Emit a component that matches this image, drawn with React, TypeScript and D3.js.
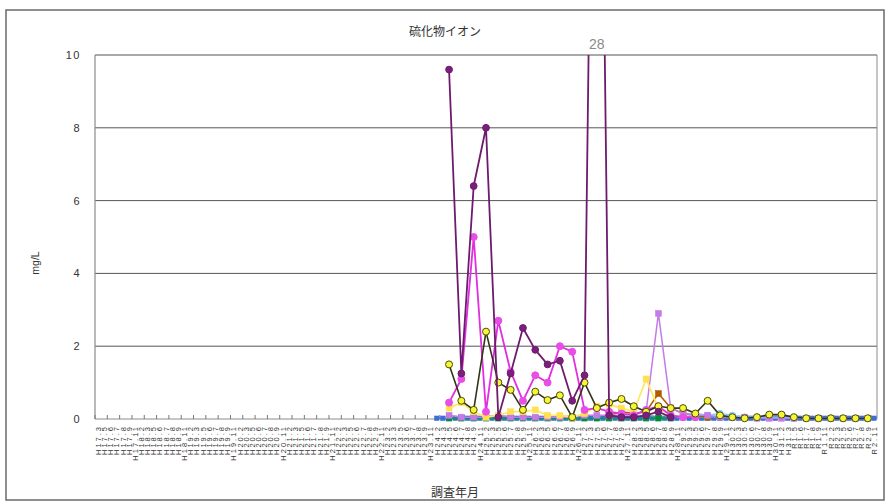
import React from "react";
import * as d3 from "d3";

// ---- categories (調査年月) ----
const categories: string[] = (
  "H17.3 H17.5 H17.6 H17.7 H17.8 H17.9 H17.11 " +
  "H18.2 H18.3 H18.5 H18.6 H18.7 H18.8 H18.9 H18.11 " +
  "H19.2 H19.3 H19.5 H19.6 H19.7 H19.8 H19.9 H19.11 " +
  "H20.2 H20.3 H20.5 H20.6 H20.7 H20.8 H20.9 H20.11 " +
  "H21.2 H21.3 H21.5 H21.6 H21.7 H21.8 H21.9 H21.11 " +
  "H22.2 H22.3 H22.5 H22.6 H22.7 H22.8 H22.9 H22.11 " +
  "H23.2 H23.3 H23.5 H23.6 H23.7 H23.8 H23.9 H23.11 " +
  "H24.2 H24.3 H24.5 H24.6 H24.7 H24.8 H24.9 H24.11 " +
  "H25.2 H25.3 H25.5 H25.6 H25.7 H25.8 H25.9 H25.11 " +
  "H26.2 H26.3 H26.5 H26.6 H26.7 H26.8 H26.9 H26.11 " +
  "H27.2 H27.3 H27.5 H27.6 H27.7 H27.8 H27.9 H27.11 " +
  "H28.2 H28.3 H28.5 H28.6 H28.7 H28.8 H28.9 H28.11 " +
  "H29.2 H29.3 H29.5 H29.6 H29.7 H29.8 H29.9 H29.11 " +
  "H30.2 H30.3 H30.5 H30.6 H30.7 H30.8 H30.9 H30.11 " +
  "H31.2 H31.3 R1.5 R1.6 R1.7 R1.8 R1.9 R1.11 " +
  "R2.2 R2.3 R2.5 R2.6 R2.7 R2.8 R2.9 R2.11"
).split(" ");

// main survey dates (every other category from H24.5)
const surveyDates: string[] = categories.filter((_, i) => i >= 57 && i % 2 === 1);
// monthly monitoring dates (blue site)
const monthlyDates: string[] = categories.slice(55);

const yTicks = [0, 2, 4, 6, 8, 10];

// ---- series values (aligned with surveyDates) ----
const siteA = [9.6, 1.25, 6.4, 8.0, 0.05, 1.25, 2.5, 1.9, 1.5, 1.6, 0.5, 1.2, 28, 0.1, 0.05, 0.05, 0.1, 0.2, 0.05, null, null, null, null, null, null, null, null, null, null, null, null, null, null, null, null];
const siteB = [0.45, 1.1, 5.0, 0.2, 2.7, 1.3, 0.5, 1.2, 1.0, 2.0, 1.85, 0.25, 0.3, 0.2, 0.15, 0.1, 0.25, 0.35, 0.1, 0.05, 0.05, null, null, null, null, null, null, null, null, null, null, null, null, null, null];
const siteC = [1.5, 0.5, 0.25, 2.4, 1.0, 0.8, 0.25, 0.75, 0.52, 0.65, 0.05, 1.0, 0.3, 0.45, 0.55, 0.35, 0.2, 0.35, 0.3, 0.3, 0.15, 0.5, 0.1, 0.05, 0.02, 0.05, 0.12, 0.12, 0.05, 0.02, 0.02, 0.02, 0.02, 0.02, 0.02];
const siteD = [0.3, 0.45, 0.2, 0.05, 0.1, 0.2, 0.2, 0.25, 0.1, 0.1, 0.05, 0.15, 0.35, 0.4, 0.3, 0.2, 1.1, 0.3, 0.1, 0.05, 0.05, null, null, null, null, null, null, null, null, null, null, null, null, null, null];
const siteE = [0.1, 0.05, 0.05, 0.05, 0.1, 0.05, 0.05, 0.05, 0.05, 0.05, 0.05, 0.1, 0.1, 0.1, 0.1, 0.15, 0.2, 2.9, 0.3, 0.15, 0.1, 0.1, 0.05, 0.05, 0.05, 0.02, 0.02, 0.02, 0.02, 0.02, 0.02, 0.02, 0.02, 0.02, 0.02];
const siteF = [null, null, null, null, null, null, null, null, null, null, null, null, null, 0.1, 0.2, 0.15, 0.2, 0.7, 0.3, 0.15, 0.1, 0.05, null, null, null, null, null, null, null, null, null, null, null, null, null];
const siteG = [0.02, 0.02, 0.02, 0.02, 0.02, 0.02, 0.02, 0.02, 0.02, 0.02, 0.02, 0.02, 0.02, 0.02, 0.02, 0.02, 0.02, 0.02, 0.02, null, null, null, null, null, null, null, null, null, null, null, null, null, null, null, null];
const siteI = [null, null, null, null, null, null, null, null, null, null, null, null, null, null, null, null, null, null, null, 0.1, 0.15, 0.1, 0.15, 0.1, 0.05, 0.05, 0.05, 0.05, 0.02, 0.02, 0.02, 0.02, 0.02, 0.02, 0.02];
const siteK = [null, null, null, null, null, null, null, null, null, null, null, null, null, null, 0.05, 0.05, 0.1, 0.05, 0.08, 0.05, 0.05, 0.05, 0.05, 0.02, 0.02, 0.02, null, null, null, null, null, null, null, null, null];
// monthly site (aligned with monthlyDates)
const siteH = [
  0.02, 0.02, 0.02, 0.02, 0.02, 0.02, 0.02, 0.02, 0.02, 0.02, 0.02, 0.02, 0.02, 0.02, 0.02, 0.02, 0.02, 0.02,
  0.02, 0.02, 0.02, 0.02, 0.02, 0.02, 0.02, 0.02, 0.02, 0.02, 0.02, 0.02, 0.02, 0.02, 0.02, 0.02, 0.02, 0.02,
  0.02, 0.02, 0.02, 0.02, 0.02, 0.02, 0.02, 0.02, 0.02, 0.02, 0.02, 0.02, 0.02, 0.02, 0.02, 0.02, 0.02, 0.02,
  0.02, 0.02, 0.02, 0.02, 0.02, 0.02, 0.02, 0.02, 0.02, 0.02, 0.02, 0.02, 0.02, 0.02, 0.02, 0.02, 0.02, 0.02,
];

type Series = {
  dates: string[];
  values: (number | null)[];
  line: string;
  fill: string;
  stroke: string;
  shape: "circle" | "square";
  width: number;
  size: number;
};

const seriesList: Series[] = [
  { dates: monthlyDates, values: siteH, line: "#3B6FD6", fill: "#3B6FD6", stroke: "#3B6FD6", shape: "square", width: 1, size: 4.6 },
  { dates: surveyDates, values: siteK, line: "#4D9999", fill: "#4D9999", stroke: "#4D9999", shape: "square", width: 1.5, size: 5 },
  { dates: surveyDates, values: siteI, line: "#7FD4FF", fill: "#7FD4FF", stroke: "#7FD4FF", shape: "circle", width: 1.5, size: 3.2 },
  { dates: surveyDates, values: siteG, line: "#00A040", fill: "#008C3A", stroke: "#008C3A", shape: "square", width: 1.5, size: 5.6 },
  { dates: surveyDates, values: siteF, line: "#B35900", fill: "#B35900", stroke: "#B35900", shape: "square", width: 1.5, size: 6 },
  { dates: surveyDates, values: siteE, line: "#C47AE8", fill: "#C47AE8", stroke: "#C47AE8", shape: "square", width: 1.5, size: 6 },
  { dates: surveyDates, values: siteD, line: "#FFE866", fill: "#FFE14D", stroke: "#FFE14D", shape: "square", width: 1.8, size: 6 },
  { dates: surveyDates, values: siteB, line: "#E02EE0", fill: "#E84DE8", stroke: "#E84DE8", shape: "circle", width: 1.8, size: 3.5 },
  { dates: surveyDates, values: siteC, line: "#333318", fill: "#F5F53A", stroke: "#4D4D00", shape: "circle", width: 1.6, size: 3.5 },
  { dates: surveyDates, values: siteA, line: "#6E1B6E", fill: "#7A1F7A", stroke: "#6E1B6E", shape: "circle", width: 1.8, size: 3.4 },
];

const W = 887;
const H = 504;
const plot = { left: 95, right: 877, top: 55, bottom: 419 };
const FONT = "'Liberation Sans', Arial, sans-serif";
const JFONT = "'Noto Sans CJK JP', 'Noto Sans', sans-serif";

export default function App() {
  const x = d3.scaleBand<string>().domain(categories).range([plot.left, plot.right]).padding(0);
  const bw = x.bandwidth();
  const cx = (c: string) => (x(c) as number) + bw / 2;
  const y = d3.scaleLinear().domain([0, 10]).range([plot.bottom, plot.top]);

  const peakIdx = siteA.findIndex((v) => v !== null && v > 10);
  const peakDate = surveyDates[peakIdx];
  const peakVal = siteA[peakIdx] as number;

  return (
    <svg width={W} height={H} style={{ display: "block", position: "absolute", left: 0, top: 0 }}>
      <rect x={0} y={0} width={W} height={H} fill="#fff" />
      <rect x={6} y={10} width={878} height={490} fill="#fff" stroke="#6a6a6a" strokeWidth={1.5} />
      <defs>
        <clipPath id="plotClip">
          <rect x={plot.left} y={plot.top} width={plot.right - plot.left} height={plot.bottom - plot.top + 6} />
        </clipPath>
      </defs>

      {/* title */}
      <text x={445} y={36} textAnchor="middle" fontFamily={JFONT} fontSize={12} fill="#333">
        硫化物イオン
      </text>

      {/* gridlines */}
      {yTicks.map((t) => (
        <line key={t} x1={plot.left} x2={plot.right} y1={y(t)} y2={y(t)} stroke={t === 0 ? "#8a8a8a" : "#555"} strokeWidth={1} />
      ))}
      <line x1={plot.left} x2={plot.left} y1={plot.top} y2={plot.bottom} stroke="#8a8a8a" strokeWidth={1.2} />
      <line x1={plot.right} x2={plot.right} y1={plot.top} y2={plot.bottom} stroke="#8a8a8a" strokeWidth={1} />

      {/* y labels */}
      {yTicks.map((t) => (
        <text key={t} x={81} y={y(t) + 4} textAnchor="end" fontFamily={FONT} fontSize={11} letterSpacing={1.5} fill="#333">
          {t}
        </text>
      ))}
      <text transform={`translate(39,${(plot.top + plot.bottom) / 2 + 26}) rotate(-90)`} textAnchor="middle" fontFamily={FONT} fontSize={10.5} fill="#333">
        mg/L
      </text>

      {/* x ticks */}
      {categories.map((c, i) =>
        i % 2 === 0 ? (
          <line key={"t" + c} x1={x(c) as number} x2={x(c) as number} y1={plot.bottom - 4} y2={plot.bottom} stroke="#777" strokeWidth={1} />
        ) : null
      )}
      {/* x labels */}
      {categories.map((c) => (
        <text
          key={"l" + c}
          transform={`translate(${cx(c) + 2.8},${plot.bottom + 6}) rotate(-90)`}
          textAnchor="end"
          fontFamily={FONT}
          fontSize={7.5}
          letterSpacing={2}
          fill="#333"
        >
          {c}
        </text>
      ))}
      <text x={455} y={497} textAnchor="middle" fontFamily={JFONT} fontSize={12} fill="#333">
        調査年月
      </text>

      {/* series */}
      <g clipPath="url(#plotClip)">
        {seriesList.map((s, si) => {
          const pts = s.dates
            .map((d, i) => ({ d, v: s.values[i] }))
            .filter((p) => p.v !== null && p.v !== undefined) as { d: string; v: number }[];
          const line = d3
            .line<{ d: string; v: number }>()
            .x((p) => cx(p.d))
            .y((p) => y(p.v));
          return (
            <g key={si}>
              <path d={line(pts) || ""} fill="none" stroke={s.line} strokeWidth={s.width} strokeLinejoin="round" />
              {pts.map((p, k) =>
                s.shape === "circle" ? (
                  <circle key={k} cx={cx(p.d)} cy={y(p.v)} r={s.size} fill={s.fill} stroke={s.stroke} strokeWidth={1} />
                ) : (
                  <rect key={k} x={cx(p.d) - s.size / 2} y={y(p.v) - s.size / 2} width={s.size} height={s.size} fill={s.fill} stroke={s.stroke} strokeWidth={0.5} />
                )
              )}
            </g>
          );
        })}
      </g>

      {/* off-scale value label */}
      <text x={cx(peakDate)} y={49} textAnchor="middle" fontFamily={FONT} fontSize={14} fill="#8a8a8a">
        {peakVal}
      </text>
    </svg>
  );
}
